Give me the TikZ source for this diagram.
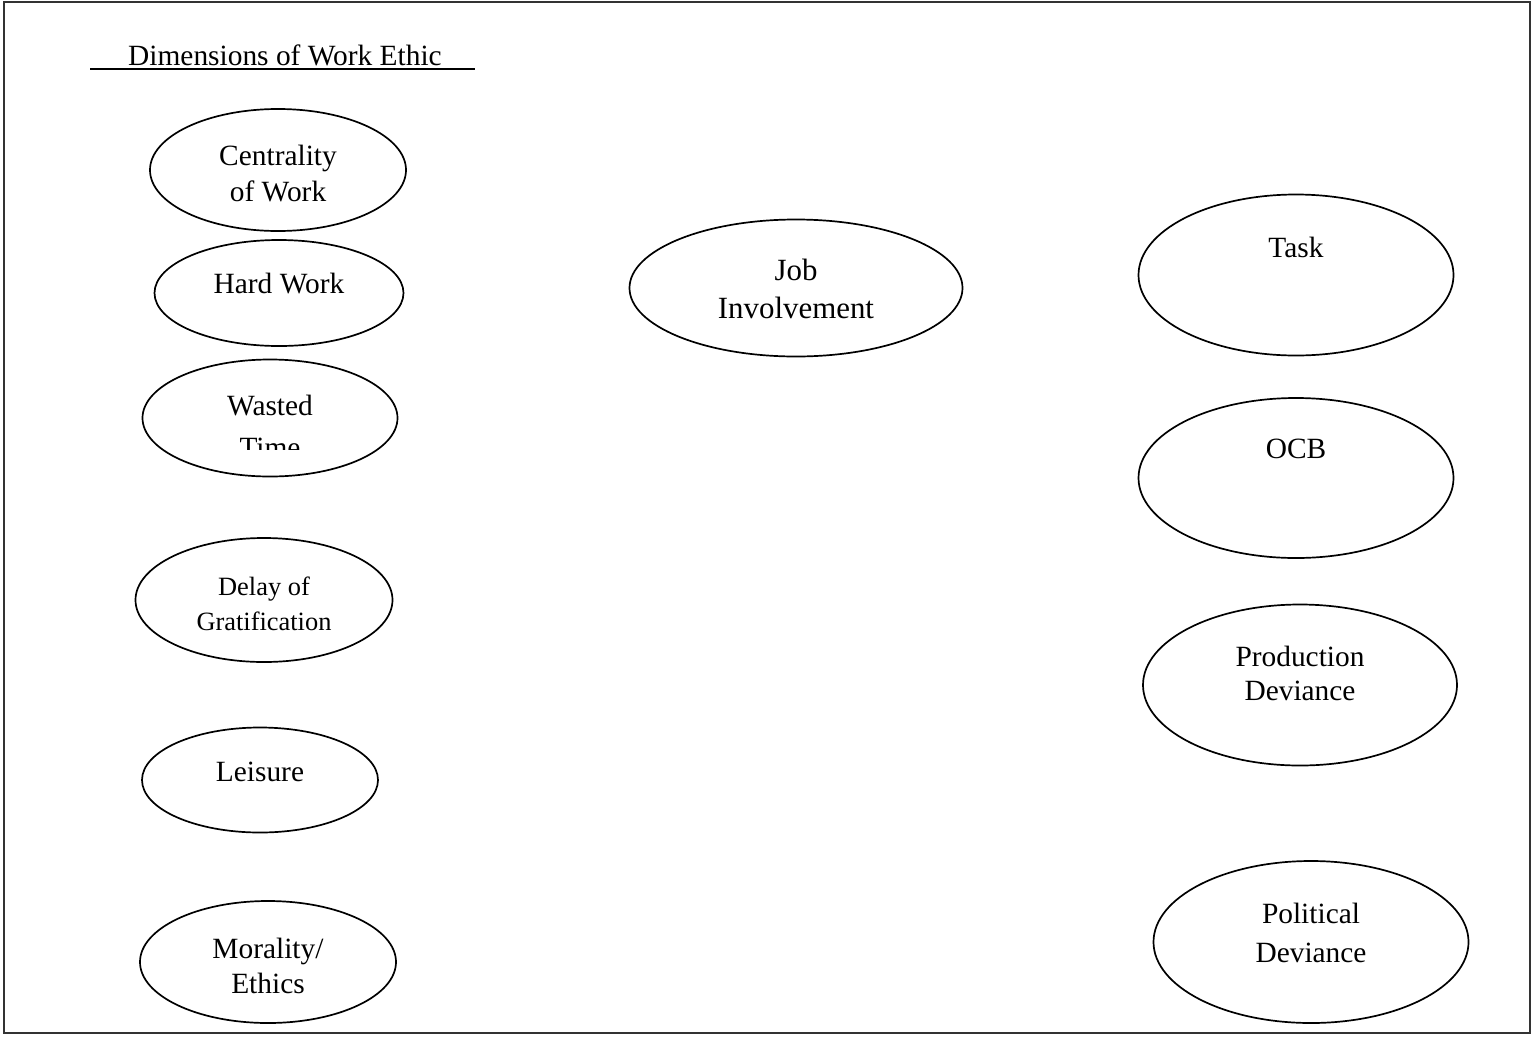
\documentclass[tikz,border=0pt]{standalone}
\usepackage{fontspec}
\setmainfont{Liberation Serif}
\usetikzlibrary{shapes.geometric}
\begin{document}
\begin{tikzpicture}[x=1bp,y=-1bp,
  oval/.style={draw, ellipse, line width=1.7bp, inner sep=0pt},
  lbl/.style={anchor=base, inner sep=0pt, font=\fontsize{29.5}{33}\selectfont},
  lblsm/.style={anchor=base, inner sep=0pt, font=\fontsize{26.5}{30}\selectfont},
  lblbig/.style={anchor=base, inner sep=0pt, font=\fontsize{31}{35}\selectfont}]
\useasboundingbox (0,0) rectangle (1533,1036);
\draw[line width=1.6bp, black!80] (4,2) rectangle (1530,1033);
% title
\node[lbl] (title) at (285,65) {Dimensions of Work Ethic};
\coordinate (ulA) at (90,69);
\coordinate (ulB) at (475,69);
\draw[line width=2bp] (ulA) -- (ulB);
% left column
\node[oval, minimum width=256bp, minimum height=122bp] (cw) at (278,170) {};
\node[lbl] (cwa) at (278,165) {Centrality};
\node[lbl] (cwb) at (278,201) {of Work};
\node[oval, minimum width=249bp, minimum height=106bp] (hw) at (279,293) {};
\node[lbl] (hwa) at (279,293) {Hard Work};
\node[oval, minimum width=255bp, minimum height=117bp] (wt) at (270,418) {};
\node[lbl] (wta) at (270,415) {Wasted};
\begin{scope}
\clip (180,420) rectangle (360,449);
\node[lbl] (wtb) at (270,457) {Time};
\end{scope}
\node[oval, minimum width=257bp, minimum height=124bp] (dg) at (264,600) {};
\node[lblsm] (dga) at (264,595) {Delay of};
\node[lblsm] (dgb) at (264,630) {Gratification};
\node[oval, minimum width=236bp, minimum height=105bp] (le) at (260,780) {};
\node[lbl] (lea) at (260,781) {Leisure};
\node[oval, minimum width=256bp, minimum height=122bp] (me) at (268,962) {};
\node[lbl] (mea) at (268,958) {Morality/};
\node[lbl] (meb) at (268,993) {Ethics};
% middle
\node[oval, minimum width=333bp, minimum height=137bp] (ji) at (796,288) {};
\node[lblbig] (jia) at (796,280) {Job};
\node[lblbig] (jib) at (796,318) {Involvement};
% right column
\node[oval, minimum width=315bp, minimum height=161bp] (ta) at (1296,275) {};
\node[lbl] (taa) at (1296,257) {Task};
\node[oval, minimum width=315bp, minimum height=160bp] (oc) at (1296,478) {};
\node[lbl] (oca) at (1296,458) {OCB};
\node[oval, minimum width=314bp, minimum height=161bp] (pd) at (1300,685) {};
\node[lbl] (pda) at (1300,666) {Production};
\node[lbl] (pdb) at (1300,700) {Deviance};
\node[oval, minimum width=315bp, minimum height=162bp] (po) at (1311,942) {};
\node[lbl] (poa) at (1311,923) {Political};
\node[lbl] (pob) at (1311,962) {Deviance};
\end{tikzpicture}
\end{document}
